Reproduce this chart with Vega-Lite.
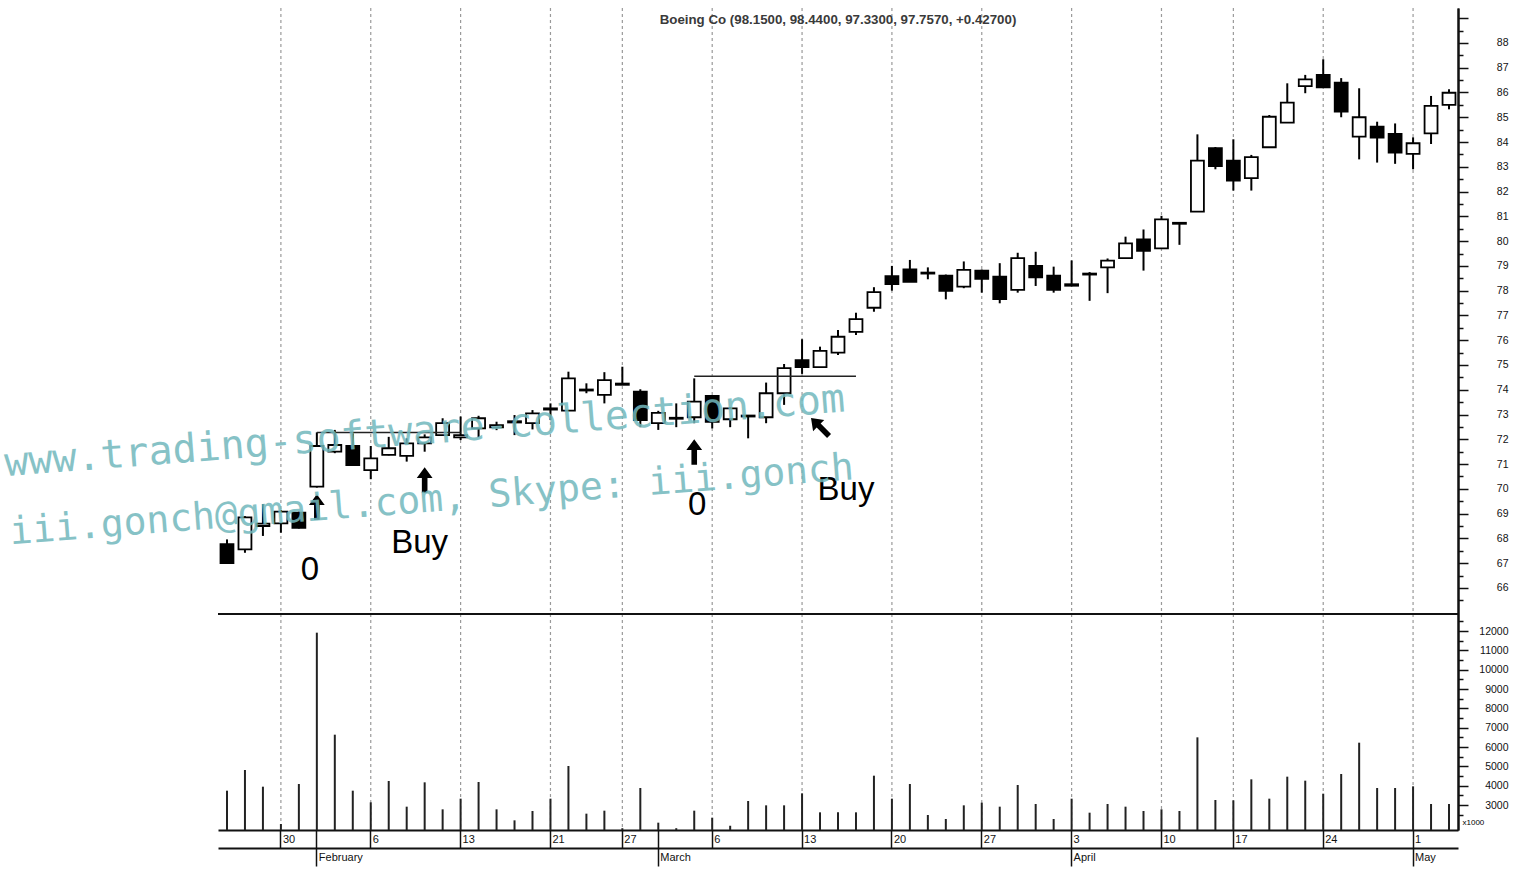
{
 "$schema": "https://vega.github.io/schema/vega-lite/v6.json",
 "width": 1240,
 "height": 822,
 "autosize": {"type": "none"},
 "padding": {"left": 218, "top": 8, "right": 57, "bottom": 39},
 "background": "white",
 "title": {"text": "Boeing Co (98.1500, 98.4400, 97.3300, 97.7570, +0.42700)", "frame": "group", "anchor": "middle", "offset": -26, "baseline": "middle", "fontSize": 13.3, "fontWeight": "bold", "font": "Liberation Sans", "color": "#3a3a3a"},
 "config": {"view": {"stroke": null}, "axis": {"labelFont": "Liberation Sans", "labelColor": "#111", "tickColor": "#111", "domainColor": "#111", "grid": false}},
 "datasets": {
  "ohlc": [
   {"d":"2006-01-25","o":67.77,"h":67.96,"l":67.0,"c":67.0,"v":3741},
   {"d":"2006-01-26","o":67.56,"h":68.9,"l":67.42,"c":68.85,"v":4811},
   {"d":"2006-01-27","o":68.5,"h":69.39,"l":68.1,"c":68.6,"v":3948},
   {"d":"2006-01-30","o":68.61,"h":69.15,"l":68.23,"c":69.08,"v":2017},
   {"d":"2006-01-31","o":69.04,"h":69.08,"l":68.4,"c":68.43,"v":4086},
   {"d":"2006-02-01","o":70.09,"h":72.28,"l":70.05,"c":71.73,"v":11915},
   {"d":"2006-02-02","o":71.5,"h":72.38,"l":71.44,"c":71.77,"v":6638},
   {"d":"2006-02-03","o":71.73,"h":72.24,"l":70.96,"c":70.96,"v":3741},
   {"d":"2006-02-06","o":70.76,"h":71.73,"l":70.39,"c":71.23,"v":3138},
   {"d":"2006-02-07","o":71.37,"h":72.1,"l":71.35,"c":71.64,"v":4242},
   {"d":"2006-02-08","o":71.33,"h":72.04,"l":71.1,"c":71.84,"v":2914},
   {"d":"2006-02-09","o":71.84,"h":72.2,"l":71.5,"c":72.08,"v":4173},
   {"d":"2006-02-10","o":72.17,"h":72.85,"l":72.17,"c":72.65,"v":2776},
   {"d":"2006-02-13","o":72.08,"h":72.92,"l":71.97,"c":72.17,"v":3328},
   {"d":"2006-02-14","o":72.44,"h":72.95,"l":72.08,"c":72.85,"v":4190},
   {"d":"2006-02-15","o":72.48,"h":72.71,"l":72.37,"c":72.57,"v":2776},
   {"d":"2006-02-16","o":72.68,"h":72.98,"l":72.17,"c":72.73,"v":2207},
   {"d":"2006-02-17","o":72.65,"h":73.18,"l":72.4,"c":73.05,"v":2690},
   {"d":"2006-02-21","o":73.2,"h":73.45,"l":72.78,"c":73.25,"v":3328},
   {"d":"2006-02-22","o":73.16,"h":74.73,"l":73.16,"c":74.46,"v":5018},
   {"d":"2006-02-23","o":73.97,"h":74.26,"l":73.86,"c":74.01,"v":2552},
   {"d":"2006-02-24","o":73.79,"h":74.71,"l":73.45,"c":74.39,"v":2707},
   {"d":"2006-02-27","o":74.25,"h":74.93,"l":74.2,"c":74.2,"v":1800},
   {"d":"2006-02-28","o":73.92,"h":74.02,"l":72.49,"c":72.78,"v":3879},
   {"d":"2006-03-01","o":72.65,"h":73.15,"l":72.38,"c":73.07,"v":2086},
   {"d":"2006-03-02","o":72.83,"h":73.45,"l":72.49,"c":72.87,"v":1800},
   {"d":"2006-03-03","o":72.89,"h":74.46,"l":72.65,"c":73.52,"v":2707},
   {"d":"2006-03-06","o":73.75,"h":73.78,"l":72.44,"c":72.71,"v":2345},
   {"d":"2006-03-07","o":72.81,"h":73.3,"l":72.49,"c":73.25,"v":1931},
   {"d":"2006-03-08","o":72.92,"h":72.98,"l":72.04,"c":72.96,"v":3207},
   {"d":"2006-03-09","o":72.89,"h":74.29,"l":72.65,"c":73.86,"v":2983},
   {"d":"2006-03-10","o":73.86,"h":75.04,"l":73.39,"c":74.87,"v":2983},
   {"d":"2006-03-13","o":75.2,"h":76.04,"l":74.64,"c":74.91,"v":3604},
   {"d":"2006-03-14","o":74.91,"h":75.74,"l":74.88,"c":75.57,"v":2621},
   {"d":"2006-03-15","o":75.5,"h":76.41,"l":75.4,"c":76.14,"v":2621},
   {"d":"2006-03-16","o":76.34,"h":77.11,"l":76.21,"c":76.85,"v":2621},
   {"d":"2006-03-17","o":77.31,"h":78.14,"l":77.15,"c":77.94,"v":4517},
   {"d":"2006-03-20","o":78.59,"h":79.0,"l":78.0,"c":78.27,"v":3328},
   {"d":"2006-03-21","o":78.86,"h":79.24,"l":78.35,"c":78.36,"v":4086},
   {"d":"2006-03-22","o":78.69,"h":78.94,"l":78.46,"c":78.73,"v":2483},
   {"d":"2006-03-23","o":78.61,"h":78.65,"l":77.65,"c":77.99,"v":2276},
   {"d":"2006-03-24","o":78.16,"h":79.18,"l":78.1,"c":78.84,"v":2983},
   {"d":"2006-03-27","o":78.81,"h":78.85,"l":77.92,"c":78.48,"v":3121},
   {"d":"2006-03-28","o":78.57,"h":79.11,"l":77.49,"c":77.66,"v":2914},
   {"d":"2006-03-29","o":78.03,"h":79.53,"l":77.92,"c":79.31,"v":4035},
   {"d":"2006-03-30","o":79.0,"h":79.57,"l":78.19,"c":78.54,"v":3052},
   {"d":"2006-03-31","o":78.61,"h":78.97,"l":77.92,"c":78.03,"v":2276},
   {"d":"2006-04-03","o":78.26,"h":79.22,"l":78.18,"c":78.2,"v":3328},
   {"d":"2006-04-04","o":78.65,"h":78.75,"l":77.59,"c":78.69,"v":2603},
   {"d":"2006-04-05","o":78.94,"h":79.3,"l":77.9,"c":79.21,"v":3052},
   {"d":"2006-04-06","o":79.31,"h":80.18,"l":79.3,"c":79.91,"v":2914},
   {"d":"2006-04-07","o":80.07,"h":80.47,"l":78.81,"c":79.61,"v":2690},
   {"d":"2006-04-10","o":79.71,"h":81.02,"l":79.7,"c":80.88,"v":2776},
   {"d":"2006-04-11","o":80.7,"h":80.76,"l":79.85,"c":80.74,"v":2690},
   {"d":"2006-04-12","o":81.19,"h":84.31,"l":81.19,"c":83.25,"v":6501},
   {"d":"2006-04-13","o":83.75,"h":83.8,"l":82.9,"c":83.03,"v":3259},
   {"d":"2006-04-17","o":83.25,"h":84.11,"l":82.04,"c":82.44,"v":3241},
   {"d":"2006-04-18","o":82.54,"h":83.48,"l":82.04,"c":83.39,"v":4328},
   {"d":"2006-04-19","o":83.79,"h":85.09,"l":83.79,"c":85.02,"v":3328},
   {"d":"2006-04-20","o":84.78,"h":86.37,"l":84.78,"c":85.59,"v":4466},
   {"d":"2006-04-21","o":86.26,"h":86.71,"l":85.97,"c":86.53,"v":4259},
   {"d":"2006-04-24","o":86.71,"h":87.34,"l":86.2,"c":86.21,"v":3586},
   {"d":"2006-04-25","o":86.4,"h":86.58,"l":85.0,"c":85.23,"v":4604},
   {"d":"2006-04-26","o":84.22,"h":86.17,"l":83.3,"c":85.0,"v":6224},
   {"d":"2006-04-27","o":84.62,"h":84.82,"l":83.17,"c":84.18,"v":3879},
   {"d":"2006-04-28","o":84.33,"h":84.75,"l":83.12,"c":83.57,"v":3879},
   {"d":"2006-05-01","o":83.52,"h":84.19,"l":82.9,"c":83.95,"v":3966},
   {"d":"2006-05-02","o":84.35,"h":85.86,"l":83.92,"c":85.46,"v":3052},
   {"d":"2006-05-03","o":85.5,"h":86.13,"l":85.32,"c":85.99,"v":3052}
  ]
 },
 "resolve": {"scale": {"y": "independent"}, "axis": {"x": "independent", "y": "independent"}},
 "layer": [
  {
   "data": {"values": [{"d":"2006-01-30"},{"d":"2006-02-06"},{"d":"2006-02-13"},{"d":"2006-02-21"},{"d":"2006-02-27"},{"d":"2006-03-06"},{"d":"2006-03-13"},{"d":"2006-03-20"},{"d":"2006-03-27"},{"d":"2006-04-03"},{"d":"2006-04-10"},{"d":"2006-04-17"},{"d":"2006-04-24"},{"d":"2006-05-01"}]},
   "mark": {"type": "rule", "color": "#9a9a9a", "strokeDash": [3, 3], "strokeWidth": 1.2},
   "encoding": {"x": {"field": "d", "type": "ordinal", "axis": null, "scale": {"type": "band", "paddingInner": 0, "paddingOuter": 0}}}
  },
  {
   "data": {"values": [{"p": 64.95}]},
   "mark": {"type": "rule", "color": "#111", "strokeWidth": 2},
   "encoding": {"y": {"field": "p", "type": "quantitative", "axis": null, "scale": {"domain": [56.23, 89.41], "nice": false, "zero": false}}}
  },
  {
   "data": {"name": "ohlc"},
   "mark": {"type": "bar", "width": 2, "color": "#222"},
   "encoding": {
    "x": {"field": "d", "type": "ordinal", "scale": {"type": "band", "paddingInner": 0, "paddingOuter": 0},
     "axis": {"orient": "bottom", "title": null, "values": ["2006-01-30","2006-02-01","2006-02-06","2006-02-13","2006-02-21","2006-02-27","2006-03-01","2006-03-06","2006-03-13","2006-03-20","2006-03-27","2006-04-03","2006-04-10","2006-04-17","2006-04-24","2006-05-01"],
      "labelExpr": "(datum.value == '2006-02-01' || datum.value == '2006-03-01') ? '' : '' + toNumber(slice(datum.value, 8))",
      "tickSize": 18, "tickWidth": 1.5, "domainWidth": 2, "labelAlign": "left", "labelBaseline": "top", "labelPadding": -15, "labelOffset": 2, "labelFontSize": 11, "labelAngle": 0, "labelOverlap": false, "labelBound": false, "labelFlush": false}},
    "y": {"field": "v", "type": "quantitative", "scale": {"domain": [1707, 44230], "nice": false, "zero": false},
     "axis": {"orient": "right", "values": [3000,4000,5000,6000,7000,8000,9000,10000,11000,12000], "format": "d", "tickSize": 10, "tickWidth": 1.5, "domainWidth": 2, "labelAlign": "right", "labelPadding": 40, "labelFontSize": 10.5, "labelOverlap": false, "labelBound": false, "labelFlush": false,
      "title": "x1000", "titleAngle": 0, "titleAlign": "left", "titleBaseline": "middle", "titleX": 4, "titleY": 814, "titleFontSize": 8, "titleFontWeight": "normal", "titleFont": "Liberation Sans"}},
    "y2": {"datum": 1707}
   }
  },
  {
   "data": {"name": "ohlc"},
   "mark": {"type": "point", "opacity": 0},
   "encoding": {
    "x": {"field": "d", "type": "ordinal", "axis": null},
    "y": {"field": "v", "type": "quantitative", "scale": {"domain": [1707, 44230], "nice": false, "zero": false},
     "axis": {"orient": "right", "title": null, "values": [2500,3500,4500,5500,6500,7500,8500,9500,10500,11500,12500], "labels": false, "domain": false, "tickSize": 5, "tickWidth": 1.5}}
   }
  },
  {
   "data": {"name": "ohlc"},
   "mark": {"type": "rule", "color": "#000", "strokeWidth": 2},
   "encoding": {
    "x": {"field": "d", "type": "ordinal",
     "axis": {"orient": "bottom", "offset": 18, "title": null, "values": ["2006-02-01","2006-03-01","2006-04-03","2006-05-01"],
      "labelExpr": "slice(datum.value,5,7) == '02' ? 'February' : slice(datum.value,5,7) == '03' ? 'March' : slice(datum.value,5,7) == '04' ? 'April' : 'May'",
      "tickSize": 18, "tickWidth": 1.5, "domainWidth": 2, "labelAlign": "left", "labelBaseline": "top", "labelPadding": -15, "labelOffset": 2, "labelFontSize": 11, "labelAngle": 0, "labelOverlap": false, "labelBound": false, "labelFlush": false}},
    "y": {"field": "l", "type": "quantitative", "scale": {"domain": [56.23, 89.41], "nice": false, "zero": false},
     "axis": {"orient": "right", "title": null, "values": [66,67,68,69,70,71,72,73,74,75,76,77,78,79,80,81,82,83,84,85,86,87,88,89], "format": "d", "labelExpr": "datum.value == 89 ? '' : datum.label", "tickSize": 10, "tickWidth": 1.5, "domainWidth": 2, "labelAlign": "right", "labelPadding": 40, "labelFontSize": 10.5, "labelOverlap": false, "labelBound": false, "labelFlush": false}},
    "y2": {"field": "h"}
   }
  },
  {
   "data": {"name": "ohlc"},
   "mark": {"type": "bar", "width": {"band": 0.72}, "stroke": "#000", "strokeWidth": 1.8},
   "encoding": {
    "x": {"field": "d", "type": "ordinal", "axis": null},
    "y": {"field": "o", "type": "quantitative", "scale": {"domain": [56.23, 89.41], "nice": false, "zero": false},
     "axis": {"orient": "right", "title": null, "values": [65.5,66.5,67.5,68.5,69.5,70.5,71.5,72.5,73.5,74.5,75.5,76.5,77.5,78.5,79.5,80.5,81.5,82.5,83.5,84.5,85.5,86.5,87.5,88.5], "labels": false, "domain": false, "tickSize": 5, "tickWidth": 1.5}},
    "y2": {"field": "c"},
    "fill": {"condition": {"test": "datum.c < datum.o", "value": "#000"}, "value": "#fff"}
   }
  },
  {
   "data": {"values": [{"d1":"2006-02-01","d2":"2006-02-13","p":72.28},{"d1":"2006-03-03","d2":"2006-03-16","p":74.55}]},
   "mark": {"type": "rule", "color": "#222", "strokeWidth": 1.5},
   "encoding": {
    "x": {"field": "d1", "type": "ordinal", "axis": null},
    "x2": {"field": "d2"},
    "y": {"field": "p", "type": "quantitative", "axis": null, "scale": {"domain": [56.23, 89.41], "nice": false, "zero": false}}
   }
  },
  {
   "data": {"values": [{"d":"2006-02-01","p":69.27},{"d":"2006-02-09","p":70.36},{"d":"2006-03-03","p":71.49}]},
   "mark": {"type": "point", "shape": "M0,-1L0.62,-0.15L0.22,-0.15L0.22,1L-0.22,1L-0.22,-0.15L-0.62,-0.15Z", "size": 650, "filled": true, "color": "#000", "opacity": 1, "dx": -2},
   "encoding": {
    "x": {"field": "d", "type": "ordinal", "axis": null},
    "y": {"field": "p", "type": "quantitative", "axis": null, "scale": {"domain": [56.23, 89.41], "nice": false, "zero": false}}
   }
  },
  {
   "data": {"values": [{"d":"2006-03-14","p":72.5}]},
   "mark": {"type": "point", "shape": "M0,-1L0.62,-0.15L0.22,-0.15L0.22,1L-0.22,1L-0.22,-0.15L-0.62,-0.15Z", "size": 650, "filled": true, "color": "#000", "opacity": 1, "angle": -45, "dx": -4},
   "encoding": {
    "x": {"field": "d", "type": "ordinal", "axis": null},
    "y": {"field": "p", "type": "quantitative", "axis": null, "scale": {"domain": [56.23, 89.41], "nice": false, "zero": false}}
   }
  },
  {
   "data": {"values": [{"d":"2006-02-01","p":66.72,"t":"0"}]},
   "mark": {"type": "text", "font": "Liberation Sans", "fontSize": 33, "color": "#000", "align": "center", "baseline": "middle", "dx": -7},
   "encoding": {
    "x": {"field": "d", "type": "ordinal", "axis": null},
    "y": {"field": "p", "type": "quantitative", "axis": null, "scale": {"domain": [56.23, 89.41], "nice": false, "zero": false}},
    "text": {"field": "t"}
   }
  },
  {
   "data": {"values": [{"d":"2006-02-09","p":67.81,"t":"Buy"}]},
   "mark": {"type": "text", "font": "Liberation Sans", "fontSize": 33, "color": "#000", "align": "center", "baseline": "middle", "dx": -5},
   "encoding": {
    "x": {"field": "d", "type": "ordinal", "axis": null},
    "y": {"field": "p", "type": "quantitative", "axis": null, "scale": {"domain": [56.23, 89.41], "nice": false, "zero": false}},
    "text": {"field": "t"}
   }
  },
  {
   "data": {"values": [{"d":"2006-03-03","p":69.35,"t":"0"}]},
   "mark": {"type": "text", "font": "Liberation Sans", "fontSize": 33, "color": "#000", "align": "center", "baseline": "middle", "dx": 3},
   "encoding": {
    "x": {"field": "d", "type": "ordinal", "axis": null},
    "y": {"field": "p", "type": "quantitative", "axis": null, "scale": {"domain": [56.23, 89.41], "nice": false, "zero": false}},
    "text": {"field": "t"}
   }
  },
  {
   "data": {"values": [{"d":"2006-03-15","p":69.95,"t":"Buy"}]},
   "mark": {"type": "text", "font": "Liberation Sans", "fontSize": 33, "color": "#000", "align": "center", "baseline": "middle", "dx": 8},
   "encoding": {
    "x": {"field": "d", "type": "ordinal", "axis": null},
    "y": {"field": "p", "type": "quantitative", "axis": null, "scale": {"domain": [56.23, 89.41], "nice": false, "zero": false}},
    "text": {"field": "t"}
   }
  },
  {
   "data": {"values": [{"d":"2006-02-09","p":72.3,"t":"www.trading-software-collection.com"}]},
   "mark": {"type": "text", "font": "DejaVu Sans Mono", "fontSize": 40, "color": "#72b8bd", "opacity": 0.85, "align": "center", "baseline": "middle", "angle": -4.4},
   "encoding": {
    "x": {"field": "d", "type": "ordinal", "axis": null},
    "y": {"field": "p", "type": "quantitative", "axis": null, "scale": {"domain": [56.23, 89.41], "nice": false, "zero": false}},
    "text": {"field": "t"}
   }
  },
  {
   "data": {"values": [{"d":"2006-02-09","p":69.5,"t":"iii.gonch@gmail.com, Skype: iii.gonch"}]},
   "mark": {"type": "text", "font": "DejaVu Sans Mono", "fontSize": 38, "color": "#72b8bd", "opacity": 0.85, "align": "center", "baseline": "middle", "angle": -4.4, "dx": 7},
   "encoding": {
    "x": {"field": "d", "type": "ordinal", "axis": null},
    "y": {"field": "p", "type": "quantitative", "axis": null, "scale": {"domain": [56.23, 89.41], "nice": false, "zero": false}},
    "text": {"field": "t"}
   }
  }
 ]
}
